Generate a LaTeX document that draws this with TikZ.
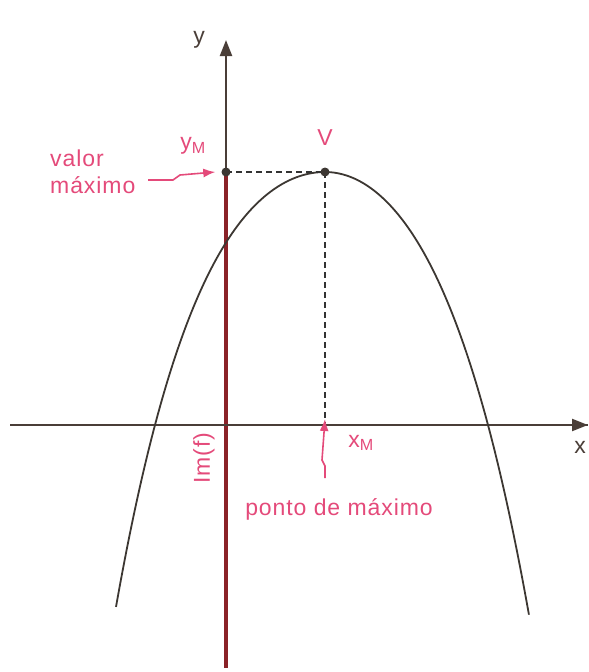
\documentclass[tikz,border=0pt]{standalone}
\usepackage{fontspec}
\setmainfont{Liberation Sans}
\usepackage{xcolor}
\definecolor{axisgray}{HTML}{4A3E38}
\definecolor{curvegray}{HTML}{3C3732}
\definecolor{pink1}{HTML}{E44A7A}
\definecolor{imred}{HTML}{8A2228}
\usetikzlibrary{arrows.meta,positioning}

\begin{document}
\begin{tikzpicture}[
  x=1pt,y=-1pt,
  axis/.style={axisgray,line width=2.2pt,-{Triangle[length=16pt,width=12pt]}},
  curve/.style={curvegray,line width=1.8pt},
  guide/.style={black!80,line width=1.4pt,dash pattern=on 6pt off 4pt},
  dot/.style={circle,fill=curvegray,inner sep=0pt,minimum size=9pt},
  tag/.style={pink1,font=\fontsize{23}{27}\selectfont\addfontfeature{LetterSpace=4},inner sep=0pt},
  axlabel/.style={axisgray,font=\fontsize{23}{27}\selectfont,inner sep=0pt},
  pointer/.style={pink1,line width=1.6pt,-{Latex[length=12pt,width=9pt]}},
]
  \useasboundingbox (0,0) rectangle (589,672);

  % points
  \coordinate (ymax) at (226,172);
  \coordinate (vtx) at (325,172);
  \coordinate (xmax) at (325,425);
  \coordinate (ytop) at (226,40);
  \coordinate (ybot) at (226,668);
  \coordinate (xleft) at (10,425);
  \coordinate (xright) at (588,425);

  % image of f
  \draw[imred,line width=4pt] (ymax) -- (ybot);

  % axes
  \draw[axis] (ymax) -- (ytop);
  \draw[axisgray,line width=2pt] (xleft) -- (xright);
  \draw[axis] (300,425) -- (xright);

  % parabola (left and right branch)
  \draw[curve] plot[domain=-2.09:0,samples=70,smooth]
      ({325+100*\x},{172+64*\x*\x+8.14*\x*\x*\x*\x})
    -- plot[domain=0:2.04,samples=70,smooth]
      ({325+100*\x},{172+75.4*\x*\x+7.46*\x*\x*\x*\x});

  % guides to the vertex
  \draw[guide] (ymax) -- (vtx);
  \draw[guide] (vtx) -- (xmax);

  \node[dot] (dy) at (ymax) {};
  \node[dot] (dv) at (vtx) {};

  % labels
  \node[axlabel] (ly) at (199,40) {y};
  \node[axlabel] (lx) at (580,447) {x};
  \node[tag] (lv) at (325,138) {V};
  \node[tag] (lym) at (193,146) {y\textsubscript{M}};
  \node[tag] (lxm) at (361,443) {x\textsubscript{M}};
  \node[tag,rotate=90] (lim) at (204,458) {Im(f)};
  \node[tag,align=left,anchor=north west] (lval) at (50,150) {valor\\máximo};
  \node[tag] (lpt) at (339,509) {ponto de máximo};

  % pointers
  \coordinate (pv) at (148,180);
  \coordinate (px) at (325,478);
  \draw[pointer] (pv) -- (173,180) -- (180,175) -- ([xshift=-6pt]dy.west);
  \draw[pointer] (px) -- (325,466) -- (322,460) -- ([yshift=6pt]xmax);
\end{tikzpicture}
\end{document}
